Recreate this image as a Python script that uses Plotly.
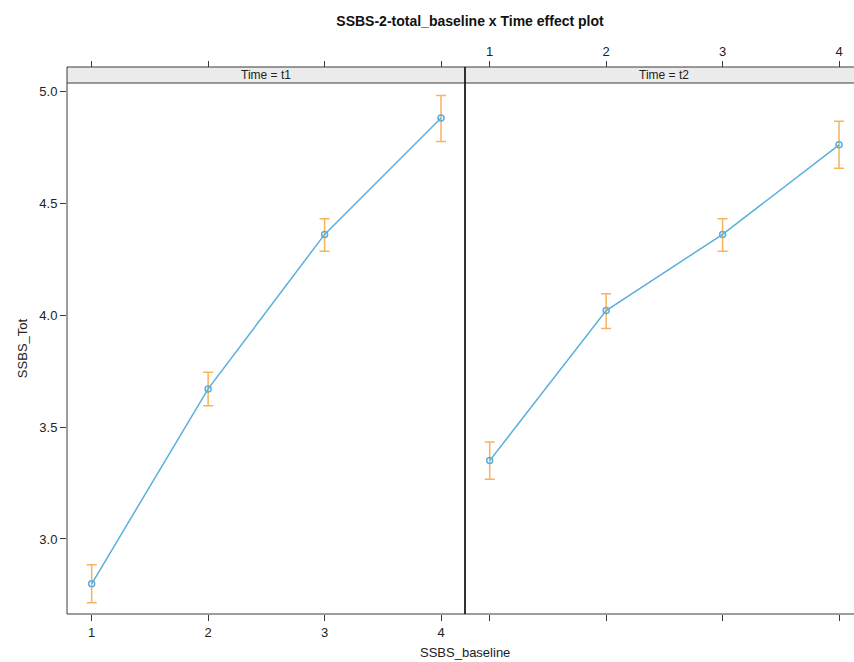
import plotly.graph_objects as go

# ---- data ----
baseline = [1, 2, 3, 4]
t1_fit = [2.80, 3.67, 4.36, 4.88]
t1_lower = [2.715, 3.595, 4.285, 4.775]
t1_upper = [2.885, 3.745, 4.43, 4.98]
t2_fit = [3.35, 4.02, 4.36, 4.76]
t2_lower = [3.267, 3.94, 4.285, 4.655]
t2_upper = [3.433, 4.095, 4.43, 4.865]
x_ticks = [1, 2, 3, 4]
y_ticks = [3.0, 3.5, 4.0, 4.5, 5.0]
y_ticklabels = ["3.0", "3.5", "4.0", "4.5", "5.0"]
panel_titles = ["Time = t1", "Time = t2"]

LINE = "#5aafdc"
CI = "#f7b35c"
FRAME = "#3a3a3a"
FONT = "Liberation Sans, Arial, sans-serif"

W, H = 854, 662
ml, mr, mt, mb = 67, 0, 67, 48
pw = W - ml - mr
ph = H - mt - mb
panel_px = 398
d_split = panel_px / pw
strip_px = 16
y_top = (ph - strip_px) / ph

fig = go.Figure()

def add_panel(fit, lo, hi, xa):
    fig.add_trace(go.Scatter(
        x=baseline, y=fit, xaxis=xa, yaxis="y",
        mode="lines+markers",
        line=dict(color=LINE, width=1.5),
        marker=dict(symbol="circle-open", size=6, color=LINE, line=dict(width=1.5)),
        error_y=dict(type="data", symmetric=False,
                     array=[h - f for h, f in zip(hi, fit)],
                     arrayminus=[f - l for f, l in zip(fit, lo)],
                     color=CI, thickness=1.5, width=5),
        showlegend=False, hoverinfo="skip",
    ))

add_panel(t1_fit, t1_lower, t1_upper, "x")
add_panel(t2_fit, t2_lower, t2_upper, "x2")
# dummy traces so top axes render
fig.add_trace(go.Scatter(x=[None], y=[None], xaxis="x3", yaxis="y", showlegend=False))
fig.add_trace(go.Scatter(x=[None], y=[None], xaxis="x4", yaxis="y", showlegend=False))

xr_left = [0.788, 0.788 + panel_px / 116.45]
xr_right = [0.788, 0.788 + (pw - panel_px) / 116.45]

axis_common = dict(
    tickvals=x_ticks, ticktext=[str(v) for v in x_ticks],
    ticks="outside", ticklen=6, tickwidth=1, tickcolor=FRAME,
    showgrid=False, zeroline=False, showline=False,
    tickfont=dict(family=FONT, size=13, color="#222"),
    fixedrange=True,
)

fig.update_layout(
    width=W, height=H,
    margin=dict(l=ml, r=mr, t=mt, b=mb, pad=0),
    paper_bgcolor="white", plot_bgcolor="rgba(0,0,0,0)",
    font=dict(family=FONT, size=12, color="#222"),
    title=dict(text="<b>SSBS-2-total_baseline x Time effect plot</b>",
               x=470 / W, xanchor="center", y=1 - 21 / H, yanchor="middle",
               font=dict(family=FONT, size=14, color="#111")),
    xaxis=dict(domain=[0, d_split], range=xr_left, anchor="y", showticklabels=True,
               **axis_common),
    xaxis2=dict(domain=[d_split, 1], range=xr_right, anchor="y", showticklabels=False,
                **axis_common),
    xaxis3=dict(domain=[0, d_split], range=xr_left, anchor="free", position=1,
                overlaying="x", side="top", showticklabels=False, **axis_common),
    xaxis4=dict(domain=[d_split, 1], range=xr_right, anchor="free", position=1,
                overlaying="x2", side="top", showticklabels=True, **axis_common),
    yaxis=dict(domain=[0, y_top], range=[2.665, 5.036], anchor="x",
               tickvals=y_ticks, ticktext=y_ticklabels,
               ticks="outside", ticklen=6, tickcolor=FRAME,
               showgrid=False, zeroline=False, showline=False,
               tickfont=dict(family=FONT, size=13, color="#222"),
               title=dict(text="SSBS_Tot", font=dict(family=FONT, size=13, color="#222"),
                          standoff=8),
               fixedrange=True),
)

# x-axis title
fig.add_annotation(text="SSBS_baseline", xref="paper", yref="paper",
                   x=(panel_px) / pw, y=0, yshift=-38, showarrow=False,
                   xanchor="center", yanchor="middle",
                   font=dict(family=FONT, size=13, color="#222"))

# strips
fig.add_shape(type="rect", xref="paper", yref="paper", x0=0, x1=1.02, y0=y_top, y1=1,
              fillcolor="#ebebeb", line=dict(width=0), layer="below")
for i, t in enumerate(panel_titles):
    cx = (d_split / 2) if i == 0 else (d_split + panel_px / pw / 2)
    fig.add_annotation(text=t, xref="paper", yref="paper", x=cx, y=(y_top + 1) / 2,
                       showarrow=False, xanchor="center", yanchor="middle",
                       font=dict(family=FONT, size=12, color="#222"))

# frames
lw = 1
fig.add_shape(type="rect", xref="paper", yref="paper", x0=0, x1=d_split, y0=0, y1=1,
              line=dict(color=FRAME, width=lw))
fig.add_shape(type="line", xref="paper", yref="paper", x0=0, x1=1.02, y0=y_top, y1=y_top,
              line=dict(color=FRAME, width=lw))
fig.add_shape(type="line", xref="paper", yref="paper", x0=d_split, x1=1.02, y0=1, y1=1,
              line=dict(color=FRAME, width=lw))
fig.add_shape(type="line", xref="paper", yref="paper", x0=d_split, x1=1.02, y0=0, y1=0,
              line=dict(color=FRAME, width=lw))
fig.add_shape(type="line", xref="paper", yref="paper", x0=d_split, x1=d_split, y0=0, y1=1,
              line=dict(color="#111", width=1.5))

fig.write_html("out.html")
